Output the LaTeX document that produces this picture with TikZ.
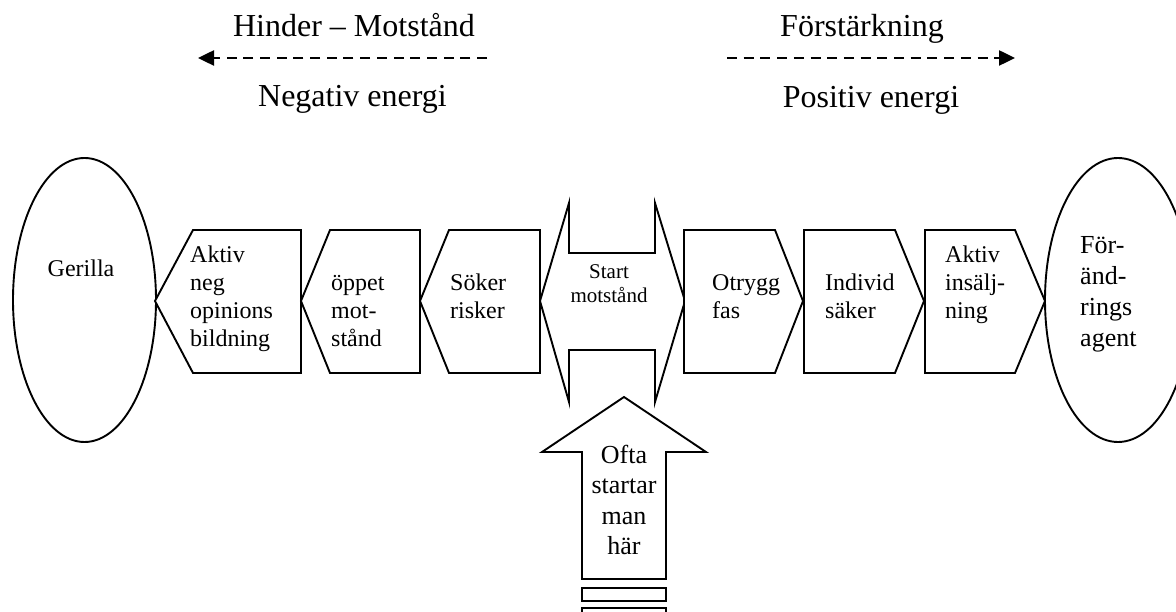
\documentclass[tikz,border=0pt]{standalone}
\usepackage{fontspec}
\setmainfont{Liberation Serif}
\usetikzlibrary{arrows.meta}

% strut that fixes the top of a multi-line label
\newcommand{\firstln}[1]{\rule{0pt}{#1}}

\tikzset{
  outline/.style={draw=black, line width=1.9pt, line join=miter, fill=white},
  dasharrow/.style={line width=2.5pt, dash pattern=on 10pt off 6.7pt,
    -{Triangle[length=16pt,width=15pt]}},
  boxtext/.style={inner sep=0pt, align=left, anchor=north west,
    font=\fontsize{24}{28}\selectfont},
  headtext/.style={inner sep=0pt, anchor=base, font=\fontsize{32}{36}\selectfont},
}

\begin{document}
\begin{tikzpicture}[x=1pt,y=-1pt]
\useasboundingbox (0,0) rectangle (1176,612);
\clip (0,0) rectangle (1176,612);

% headings and direction arrows
\node[headtext] (hinder) at (354,37) {Hinder – Motstånd};
\node[headtext] (negativ) at (352.5,107) {Negativ energi};
\node[headtext] (forst) at (862,37) {Förstärkning};
\node[headtext] (positiv) at (871,108) {Positiv energi};
\coordinate (negTail) at (487,58);
\coordinate (negTip) at (198,58);
\coordinate (posTail) at (727,58);
\coordinate (posTip) at (1015,58);
\draw[dasharrow] (negTail) -- (negTip);
\draw[dasharrow] (posTail) -- (posTip);

% end ellipses
\draw[outline] (84.5,300) ellipse [x radius=71.5, y radius=142];
\draw[outline] (1118,300) ellipse [x radius=73, y radius=142];
\node[inner sep=0pt, anchor=base, font=\fontsize{24}{28}\selectfont] (gerilla) at (81,277) {Gerilla};
\node[inner sep=0pt, align=left, anchor=north west, font=\fontsize{26}{31}\selectfont]
  (agent) at (1080,232) {\firstln{21pt}För-\\änd-\\rings\\agent};

% left-pointing stages
\draw[outline] (155,301) -- (193,230) -- (301,230) -- (301,373) -- (193,373) -- cycle;
\draw[outline] (301,301) -- (330,230) -- (420,230) -- (420,373) -- (330,373) -- cycle;
\draw[outline] (420,301) -- (449,230) -- (540,230) -- (540,373) -- (449,373) -- cycle;
\node[boxtext] (aktivneg) at (190,242) {\firstln{20pt}Aktiv\\neg\\opinions\\bildning};
\node[boxtext] (oppet) at (331,270) {\firstln{20pt}öppet\\mot-\\stånd};
\node[boxtext] (soker) at (450,270) {\firstln{20pt}Söker\\risker};

% centre double arrow
\draw[outline] (540,301) -- (569,203) -- (569,253) -- (655,253) -- (655,203)
  -- (685,301) -- (655,402) -- (655,350) -- (569,350) -- (569,402) -- cycle;
\node[inner sep=0pt, align=center, anchor=north, font=\fontsize{21}{24.4}\selectfont]
  (start) at (609,261) {\firstln{17pt}Start\\motstånd};

% right-pointing stages
\draw[outline] (684,230) -- (775,230) -- (803,301) -- (775,373) -- (684,373) -- cycle;
\draw[outline] (804,230) -- (895,230) -- (924,301) -- (895,373) -- (804,373) -- cycle;
\draw[outline] (925,230) -- (1015,230) -- (1045,301) -- (1015,373) -- (925,373) -- cycle;
\node[boxtext] (otrygg) at (712,270) {\firstln{20pt}Otrygg\\fas};
\node[boxtext] (individ) at (825,270) {\firstln{20pt}Individ\\säker};
\node[boxtext] (aktivins) at (945,242) {\firstln{20pt}Aktiv\\insälj-\\ning};

% striped up arrow
\draw[outline] (624,397) -- (706,452) -- (666,452) -- (666,579) -- (582,579)
  -- (582,452) -- (542,452) -- cycle;
\draw[outline] (582,588) rectangle (666,601);
\draw[outline] (582,608) rectangle (666,630);
\node[inner sep=0pt, align=center, anchor=north, font=\fontsize{26}{30.5}\selectfont]
  (ofta) at (624,442) {\firstln{21pt}Ofta\\startar\\man\\här};
\end{tikzpicture}
\end{document}
